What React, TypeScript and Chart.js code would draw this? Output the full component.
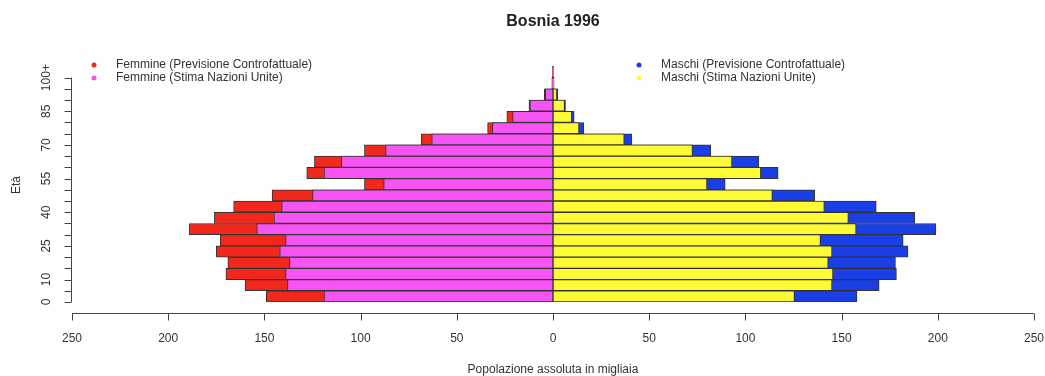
import React, { useEffect, useRef } from "react";
import { Chart, registerables } from "chart.js";

Chart.register(...registerables);

const ageGroups = ["0","5","10","15","20","25","30","35","40","45","50","55","60","65","70","75","80","85","90","95","100+"];
const shownAgeLabels = ["0","10","25","40","55","70","85","100+"];

const femaleCounterfactual = [149, 160, 170, 169, 175, 173, 189, 176, 166, 146, 98, 128, 124, 98, 68.5, 34, 24, 12.5, 4.5, 0.6, 0.4];
const femaleUN = [119, 138, 139, 137, 142, 139, 154, 145, 141, 125, 88, 119, 110, 87, 63, 31.5, 21, 12, 4, 0.4, 0.2];
const maleCounterfactual = [158, 169.5, 178.5, 178, 184.5, 182, 199, 188, 168, 136, 89.5, 117, 107, 82, 41, 16, 11, 6.5, 2.5, 0.6, 0.4];
const maleUN = [125.5, 145, 145.5, 143, 145, 139, 157.5, 153.5, 141, 114, 80, 108, 93, 72.5, 37, 13.5, 9.7, 6, 2, 0.4, 0.2];

const xTicks = [-250, -200, -150, -100, -50, 0, 50, 100, 150, 200, 250];

const COLORS = {
  red: "#f3281d",
  pink: "#f754f5",
  yellow: "#fdfb35",
  blue: "#1b3fe6",
  border: "#333333",
  text: "#333333",
};

const FONT = "'Liberation Sans', Arial, sans-serif";

const rAxesPlugin = {
  id: "rAxes",
  afterDraw(chart: any) {
    const ctx = chart.ctx;
    const xs = chart.scales.x;
    const ys = chart.scales.y;
    ctx.save();
    ctx.strokeStyle = "#444";
    ctx.lineWidth = 1;
    // x axis (R style, offset below the bars)
    const axisY = 313.5;
    const xl = xs.getPixelForValue(xTicks[0]);
    const xr = xs.getPixelForValue(xTicks[xTicks.length - 1]);
    ctx.beginPath();
    ctx.moveTo(xl, axisY);
    ctx.lineTo(xr, axisY);
    xTicks.forEach((v) => {
      const px = Math.round(xs.getPixelForValue(v)) + 0.5;
      ctx.moveTo(px, axisY);
      ctx.lineTo(px, axisY + 7);
    });
    ctx.stroke();

    // y axis: ticks at the lower edge of each bar
    const p0 = ys.getPixelForValue(0);
    const p1 = ys.getPixelForValue(1);
    const half = Math.abs(p0 - p1) / 2;
    const axisX = 71.5;
    const tickPos = ageGroups.map((_, i) => ys.getPixelForValue(i) + half);
    ctx.beginPath();
    ctx.moveTo(axisX, tickPos[0]);
    ctx.lineTo(axisX, tickPos[tickPos.length - 1]);
    tickPos.forEach((py) => {
      const y = Math.round(py) + 0.5;
      ctx.moveTo(axisX, y);
      ctx.lineTo(axisX - 7, y);
    });
    ctx.stroke();

    ctx.fillStyle = COLORS.text;
    ctx.font = `12px ${FONT}`;
    ctx.textAlign = "center";
    ctx.textBaseline = "middle";
    ageGroups.forEach((lab, i) => {
      if (!shownAgeLabels.includes(lab)) return;
      ctx.save();
      ctx.translate(47, tickPos[i]);
      ctx.rotate(-Math.PI / 2);
      ctx.fillText(lab, 0, 0);
      ctx.restore();
    });
    // y axis title
    ctx.save();
    ctx.translate(17, 185);
    ctx.rotate(-Math.PI / 2);
    ctx.fillText("Età", 0, 0);
    ctx.restore();

    // legends
    const legend = (x: number, y: number, color: string, text: string) => {
      ctx.beginPath();
      ctx.fillStyle = color;
      ctx.arc(x, y, 2.5, 0, Math.PI * 2);
      ctx.fill();
      ctx.fillStyle = COLORS.text;
      ctx.textAlign = "left";
      ctx.fillText(text, x + 22, y);
    };
    legend(94, 65, COLORS.red, "Femmine (Previsione Controfattuale)");
    legend(94, 78, COLORS.pink, "Femmine (Stima Nazioni Unite)");
    legend(639, 65, COLORS.blue, "Maschi (Previsione Controfattuale)");
    legend(639, 78, COLORS.yellow, "Maschi (Stima Nazioni Unite)");
    ctx.restore();
  },
};

export default function App() {
  const ref = useRef<HTMLCanvasElement | null>(null);
  useEffect(() => {
    if (!ref.current) return;
    const neg = (a: number[]) => a.map((v) => -v);
    const common = {
      borderColor: COLORS.border,
      borderWidth: 1,
      borderSkipped: false,
      barPercentage: 1,
      categoryPercentage: 1,
      grouped: false,
    };
    const chart = new Chart(ref.current, {
      type: "bar",
      data: {
        labels: ageGroups,
        datasets: [
          { label: "Femmine (Stima Nazioni Unite)", data: neg(femaleUN), backgroundColor: COLORS.pink, order: 1, ...common },
          { label: "Maschi (Stima Nazioni Unite)", data: maleUN, backgroundColor: COLORS.yellow, order: 1, ...common },
          { label: "Femmine (Previsione Controfattuale)", data: neg(femaleCounterfactual), backgroundColor: COLORS.red, order: 2, ...common },
          { label: "Maschi (Previsione Controfattuale)", data: maleCounterfactual, backgroundColor: COLORS.blue, order: 2, ...common },
        ],
      } as any,
      options: {
        indexAxis: "y",
        responsive: false,
        animation: false,
        layout: { padding: { left: 72, right: 11, top: 0, bottom: 0 } },
        plugins: {
          legend: { display: false },
          tooltip: { enabled: false },
          title: {
            display: true,
            text: "Bosnia 1996",
            color: "#222",
            font: { family: FONT, size: 16, weight: "bold" },
            padding: { top: 11.6, bottom: 35.6 },
          },
        },
        scales: {
          y: {
            type: "category",
            reverse: true,
            display: false,
            offset: true,
          },
          x: {
            type: "linear",
            min: -250,
            max: 250,
            grid: { display: false, drawTicks: false },
            border: { display: false },
            afterBuildTicks: (scale: any) => {
              scale.ticks = xTicks.map((v) => ({ value: v }));
            },
            ticks: {
              color: COLORS.text,
              font: { family: FONT, size: 12 },
              padding: 29,
              maxRotation: 0,
              autoSkip: false,
              callback: (v: any) => String(Math.abs(Number(v))),
            },
            title: {
              display: true,
              text: "Popolazione assoluta in migliaia",
              color: COLORS.text,
              font: { family: FONT, size: 12 },
              padding: { top: 0, bottom: -1 },
            },
            afterFit: (scale: any) => {
              scale.height = 74;
              scale.paddingLeft = 0;
              scale.paddingRight = 0;
            },
          },
        },
      } as any,
      plugins: [rAxesPlugin],
    });
    return () => chart.destroy();
  }, []);
  return (
    <canvas
      ref={ref}
      width={1045}
      height={376}
      style={{ position: "absolute", left: 0, top: 0, display: "block", background: "#fff" }}
    />
  );
}
